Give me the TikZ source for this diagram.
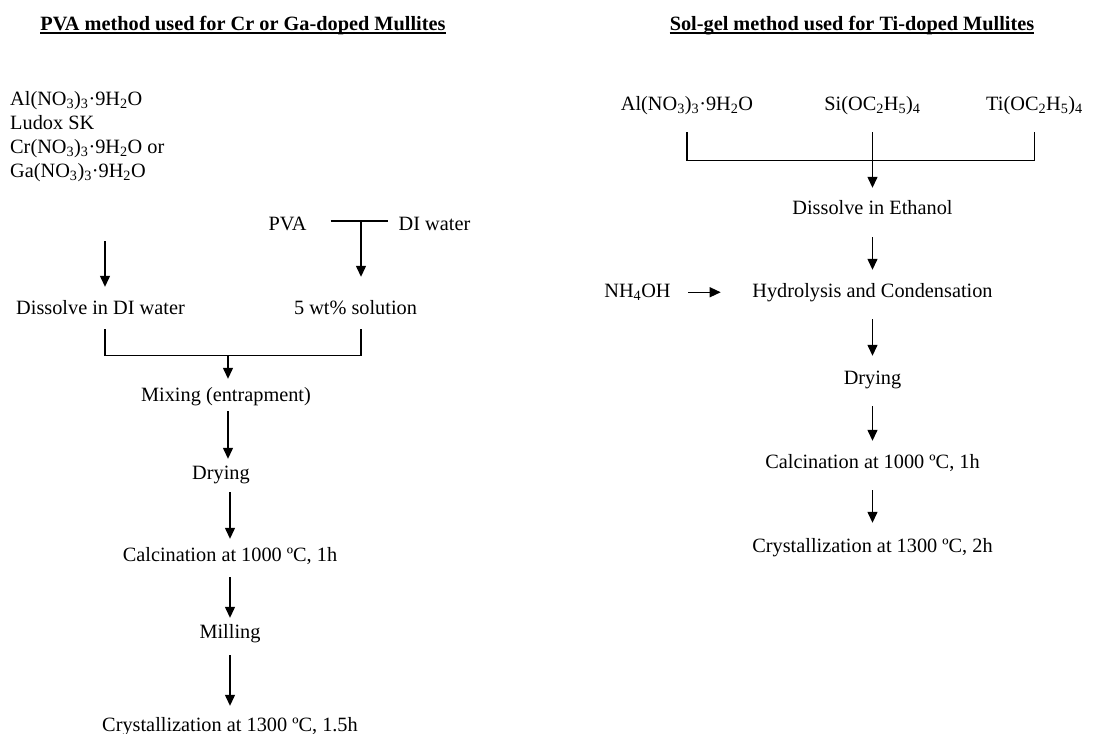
\documentclass[tikz,border=0pt]{standalone}
\usepackage{fontspec}
\setmainfont{Liberation Serif}
\usetikzlibrary{arrows.meta}
\newcommand\sbs[1]{\textsubscript{#1}}
\begin{document}
\begin{tikzpicture}[x=1pt,y=-1pt,
  txt/.style={inner sep=0pt, anchor=base, font=\fontsize{20.3}{24}\selectfont, text height=14pt, text depth=4.5pt},
  txtl/.style={txt, anchor=base west},
  ttl/.style={inner sep=0pt, anchor=base, font=\fontsize{20.3}{24}\selectfont\bfseries},
  ln/.style={line width=1.3pt},
  arr/.style={ln, -{Triangle[width=10pt,length=11pt]}}]
\path[use as bounding box] (0,0) rectangle (1112,734);

% ---------- left: PVA method ----------
\node[ttl] (t1) at (243,30) {PVA method used for Cr or Ga-doped Mullites};
\draw[line width=1.2pt] ([yshift=-3pt]t1.base west) -- ([yshift=-3pt]t1.base east);

\node[txtl] (a1) at (10,105) {Al(NO\sbs3)\sbs3·9H\sbs2O};
\node[txtl] (a2) at (10,129) {Ludox SK};
\node[txtl] (a3) at (10,153) {Cr(NO\sbs3)\sbs3·9H\sbs2O or};
\node[txtl] (a4) at (10,177) {Ga(NO\sbs3)\sbs3·9H\sbs2O};

\node[txt] (pva) at (287.5,230) {PVA};
\node[txt] (diw) at (434.5,230) {DI water};
\node[txt] (dis) at (100.5,314) {Dissolve in DI water};
\node[txt] (sol) at (355.5,314) {5 wt\% solution};
\node[txt] (mix) at (226,401) {Mixing (entrapment)};
\node[txt] (dry) at (221,479) {Drying};
\node[txt] (calc) at (230,561) {Calcination at 1000 ºC, 1h};
\node[txt] (mill) at (230,638) {Milling};
\node[txt] (cry) at (230,731) {Crystallization at 1300 ºC, 1.5h};

\coordinate (dt) at ([xshift=4.5pt]dis.north);
\draw[arr, shorten <=59.5pt, shorten >=13pt] (a4.south -| dt) -- (dt);

\path ([xshift=24pt,yshift=4.25pt]pva.east) coordinate (p1)
      ([xshift=-10.7pt,yshift=4.25pt]diw.west) coordinate (p2);
\draw[ln] (p1) -- (p2);
\coordinate (st) at ([xshift=5.5pt]sol.north);
\draw[arr, shorten >=23pt] (p1 -| st) -- (st);

\draw[ln, shorten <=10.5pt, shorten >=10.5pt]
  ([xshift=4.5pt]dis.south) -- ++(0,36.5) coordinate (lb) -| ([xshift=5.5pt]sol.south);
\coordinate (mx) at ([xshift=2pt]mix.north);
\draw[arr, shorten >=8pt] (lb -| mx) -- (mx);

\coordinate (ms) at ([xshift=2pt]mix.south);
\draw[arr, shorten <=5.5pt, shorten >=6pt] (ms) -- (ms |- dry.north);
\draw[arr, shorten <=8.5pt, shorten >=8pt] (calc.north |- dry.south) -- (calc.north);
\draw[arr, shorten <=11.5pt, shorten >=6pt] (calc.south) -- (mill.north);
\draw[arr, shorten <=12.5pt, shorten >=11pt] (mill.south) -- (cry.north);

% ---------- right: sol-gel method ----------
\node[ttl] (t2) at (852,30) {Sol-gel method used for Ti-doped Mullites};
\draw[line width=1.2pt] ([yshift=-3pt]t2.base west) -- ([yshift=-3pt]t2.base east);

\node[txt] (al) at (687,110) {Al(NO\sbs3)\sbs3·9H\sbs2O};
\node[txt] (si) at (872.5,110) {Si(OC\sbs2H\sbs5)\sbs4};
\node[txt] (ti) at (1034.5,110) {Ti(OC\sbs2H\sbs5)\sbs4};
\node[txt] (eth) at (872.5,214) {Dissolve in Ethanol};
\node[txt] (nh) at (637.5,297) {NH\sbs4OH};
\node[txt] (hyd) at (872.5,297) {Hydrolysis and Condensation};
\node[txt] (dry2) at (872.5,384) {Drying};
\node[txt] (calc2) at (872.5,468) {Calcination at 1000 ºC, 1h};
\node[txt] (cry2) at (872.5,552) {Crystallization at 1300 ºC, 2h};

\draw[ln, shorten <=17.5pt, shorten >=17.5pt]
  (al.south) -- ++(0,45.5) -| (ti.south);
\draw[arr, shorten <=17.5pt, shorten >=12pt] (si.south) -- (eth.north);
\draw[arr, shorten <=18.5pt, shorten >=13pt] (eth.south) -- (hyd.north);
\draw[arr, shorten <=17.5pt, shorten >=31.5pt] (nh.east) -- (hyd.west);
\draw[arr, shorten <=17.5pt, shorten >=14pt] (hyd.south) -- (dry2.north);
\draw[arr, shorten <=17.5pt, shorten >=13pt] (dry2.south) -- (calc2.north);
\draw[arr, shorten <=17.5pt, shorten >=15pt] (calc2.south) -- (cry2.north);
\end{tikzpicture}
\end{document}
